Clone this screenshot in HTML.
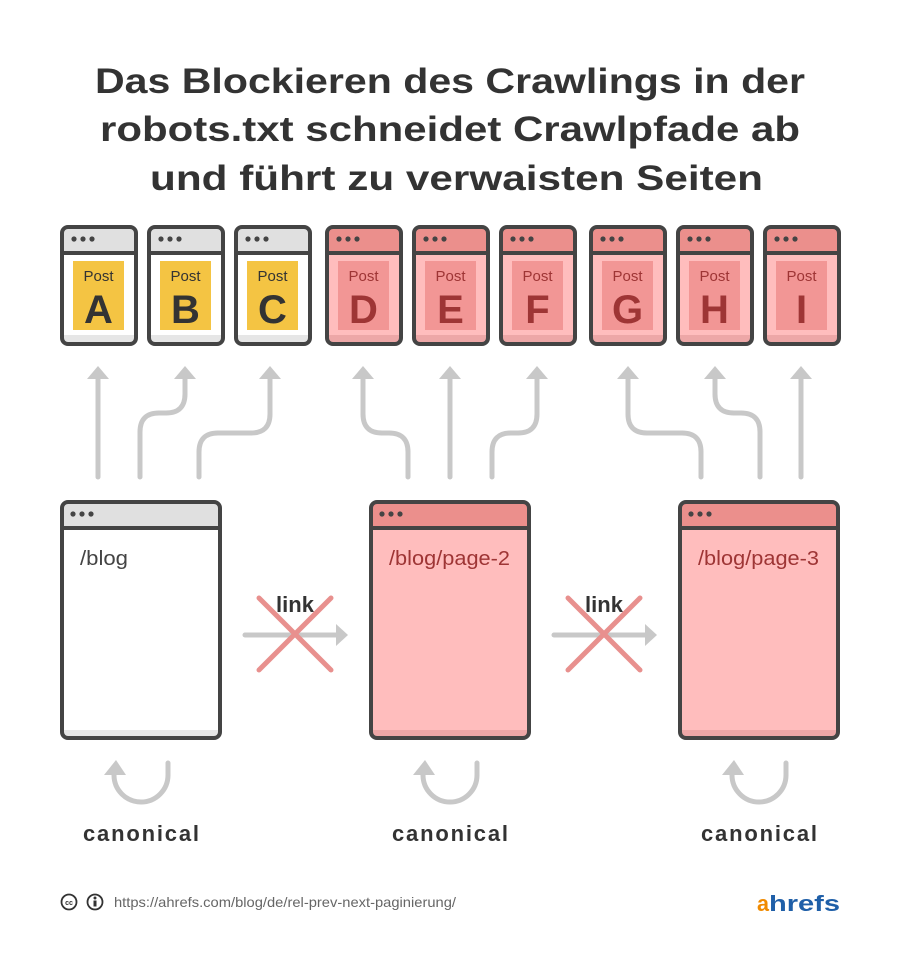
<!DOCTYPE html>
<html><head><meta charset="utf-8"><style>
html,body{margin:0;padding:0;background:#fff}
svg{display:block}
text{font-family:"Liberation Sans",sans-serif}
</style></head><body>
<svg width="900" height="972" viewBox="0 0 900 972" xmlns="http://www.w3.org/2000/svg">
<rect width="900" height="972" fill="#fff"/>
<g fill="#333" font-weight="bold" font-size="35">
<text x="95" y="93" textLength="710" lengthAdjust="spacingAndGlyphs">Das Blockieren des Crawlings in der</text>
<text x="100" y="141" textLength="700" lengthAdjust="spacingAndGlyphs">robots.txt schneidet Crawlpfade ab</text>
<text x="150" y="190" textLength="613" lengthAdjust="spacingAndGlyphs">und führt zu verwaisten Seiten</text>
</g>
<defs>
<g id="dots"><circle cx="0" cy="0" r="2.6"/><circle cx="9" cy="0" r="2.6"/><circle cx="18" cy="0" r="2.6"/></g>
<g id="wbox">
<rect x="62" y="227" width="74" height="117" rx="6" fill="#fff"/><rect x="62" y="227" width="74" height="26" rx="5" fill="#e0e0e0"/><rect x="64" y="335" width="70" height="7" fill="#e6e6e6"/>
<rect x="73" y="261" width="51" height="69" fill="#f4c443"/>
<line x1="62" y1="253" x2="136" y2="253" stroke="#444" stroke-width="4"/>
<rect x="62" y="227" width="74" height="117" rx="6" fill="none" stroke="#444" stroke-width="4"/>
<g fill="#444"><use href="#dots" x="74" y="239"/></g>
<text x="98.5" y="281" text-anchor="middle" font-size="15" font-weight="normal" fill="#333">Post</text>
</g>
<g id="pbox">
<rect x="62" y="227" width="74" height="117" rx="6" fill="#ffbdbd"/><rect x="62" y="227" width="74" height="26" rx="5" fill="#eb8f8c"/><rect x="64" y="335" width="70" height="7" fill="#eda7a7"/>
<rect x="73" y="261" width="51" height="69" fill="#f29695"/>
<line x1="62" y1="253" x2="136" y2="253" stroke="#444" stroke-width="4"/>
<rect x="62" y="227" width="74" height="117" rx="6" fill="none" stroke="#444" stroke-width="4"/>
<g fill="#444"><use href="#dots" x="74" y="239"/></g>
<text x="98.5" y="281" text-anchor="middle" font-size="15" font-weight="normal" fill="#9e3535">Post</text>
</g>
<g id="can">
<path d="M168 763 V775 A27 27 0 0 1 114 775" fill="none" stroke="#c8c8c8" stroke-width="5" stroke-linecap="round"/>
<polygon points="116,760 104,775 126,775" fill="#c8c8c8"/>
<text x="83" y="841" font-size="22" font-weight="bold" fill="#333" textLength="116" lengthAdjust="spacing">canonical</text>
</g>
<g id="lnk">
<line x1="245" y1="635" x2="338" y2="635" stroke="#c8c8c8" stroke-width="5" stroke-linecap="round"/>
<polygon points="348,635 336,624 336,646" fill="#c8c8c8"/>
<text x="295" y="612" text-anchor="middle" font-size="22" font-weight="bold" fill="#333">link</text>
<g stroke="#e8908e" stroke-width="5" stroke-linecap="round"><line x1="259" y1="598" x2="331" y2="670"/><line x1="331" y1="598" x2="259" y2="670"/></g>
</g>
</defs>
<use href="#wbox"/>
<use href="#wbox" x="87"/>
<use href="#wbox" x="174"/>
<use href="#pbox" x="265"/>
<use href="#pbox" x="352"/>
<use href="#pbox" x="439"/>
<use href="#pbox" x="529"/>
<use href="#pbox" x="616"/>
<use href="#pbox" x="703"/>
<g font-size="40" font-weight="bold" text-anchor="middle">
<text x="98.5" y="323" fill="#333">A</text>
<text x="185.5" y="323" fill="#333">B</text>
<text x="272.5" y="323" fill="#333">C</text>
<text x="363.5" y="323" fill="#9e3535">D</text>
<text x="450.5" y="323" fill="#9e3535">E</text>
<text x="537.5" y="323" fill="#9e3535">F</text>
<text x="627.5" y="323" fill="#9e3535">G</text>
<text x="714.5" y="323" fill="#9e3535">H</text>
<text x="801.5" y="323" fill="#9e3535">I</text>
</g>
<g fill="none" stroke="#c8c8c8" stroke-width="5" stroke-linecap="round">
<path d="M98 477 V376"/>
<path d="M140 477 V432 Q140 413 159 413 H166 Q185 413 185 394 V376"/>
<path d="M199 477 V452 Q199 433 218 433 H251 Q270 433 270 414 V376"/>
<path d="M408 477 V452 Q408 433 389 433 H382 Q363 433 363 414 V376"/>
<path d="M450 477 V376"/>
<path d="M492 477 V452 Q492 433 511 433 H518 Q537 433 537 414 V376"/>
<path d="M701 477 V452 Q701 433 682 433 H647 Q628 433 628 414 V376"/>
<path d="M760 477 V432 Q760 413 741 413 H734 Q715 413 715 394 V376"/>
<path d="M801 477 V376"/>
</g>
<g fill="#c8c8c8">
<polygon points="98,366 87,379 109,379"/>
<polygon points="185,366 174,379 196,379"/>
<polygon points="270,366 259,379 281,379"/>
<polygon points="363,366 352,379 374,379"/>
<polygon points="450,366 439,379 461,379"/>
<polygon points="537,366 526,379 548,379"/>
<polygon points="628,366 617,379 639,379"/>
<polygon points="715,366 704,379 726,379"/>
<polygon points="801,366 790,379 812,379"/>
</g>
<g>
<rect x="62" y="502" width="158" height="236" rx="6" fill="#fff"/>
<rect x="62" y="502" width="158" height="26" rx="5" fill="#e0e0e0"/>
<rect x="64" y="730" width="154" height="7" fill="#e6e6e6"/>
<line x1="62" y1="528" x2="220" y2="528" stroke="#444" stroke-width="4"/>
<rect x="62" y="502" width="158" height="236" rx="6" fill="none" stroke="#444" stroke-width="4"/>
<g fill="#444"><use href="#dots" x="73" y="514"/></g>
<text x="80" y="565" font-size="20" fill="#444" textLength="48" lengthAdjust="spacingAndGlyphs">/blog</text>
</g>
<g>
<rect x="371" y="502" width="158" height="236" rx="6" fill="#ffbdbd"/>
<rect x="371" y="502" width="158" height="26" rx="5" fill="#eb8f8c"/>
<rect x="373" y="730" width="154" height="7" fill="#eda7a7"/>
<line x1="371" y1="528" x2="529" y2="528" stroke="#444" stroke-width="4"/>
<rect x="371" y="502" width="158" height="236" rx="6" fill="none" stroke="#444" stroke-width="4"/>
<g fill="#444"><use href="#dots" x="382" y="514"/></g>
<text x="389" y="565" font-size="20" fill="#9e3535" textLength="121" lengthAdjust="spacingAndGlyphs">/blog/page-2</text>
</g>
<g>
<rect x="680" y="502" width="158" height="236" rx="6" fill="#ffbdbd"/>
<rect x="680" y="502" width="158" height="26" rx="5" fill="#eb8f8c"/>
<rect x="682" y="730" width="154" height="7" fill="#eda7a7"/>
<line x1="680" y1="528" x2="838" y2="528" stroke="#444" stroke-width="4"/>
<rect x="680" y="502" width="158" height="236" rx="6" fill="none" stroke="#444" stroke-width="4"/>
<g fill="#444"><use href="#dots" x="691" y="514"/></g>
<text x="698" y="565" font-size="20" fill="#9e3535" textLength="121" lengthAdjust="spacingAndGlyphs">/blog/page-3</text>
</g>
<use href="#lnk"/>
<use href="#lnk" x="309"/>
<use href="#can"/>
<use href="#can" x="309"/>
<use href="#can" x="618"/>
<circle cx="69" cy="902" r="7.5" fill="none" stroke="#333" stroke-width="1.8"/>
<text x="69" y="905" text-anchor="middle" font-size="7" font-weight="bold" fill="#333">cc</text>
<circle cx="95" cy="902" r="7.5" fill="none" stroke="#333" stroke-width="1.8"/>
<circle cx="95" cy="898" r="1.5" fill="#333"/>
<rect x="93.5" y="900.5" width="3" height="6" fill="#333"/>
<text x="114" y="907" font-size="14" fill="#666" textLength="342" lengthAdjust="spacingAndGlyphs">https://ahrefs.com/blog/de/rel-prev-next-paginierung/</text>
<text x="757" y="911" font-size="22" font-weight="bold" fill="#f08a00" textLength="12" lengthAdjust="spacingAndGlyphs">a</text>
<text x="769" y="911" font-size="22" font-weight="bold" fill="#1f5fa8" textLength="71" lengthAdjust="spacingAndGlyphs">hrefs</text>
</svg>
</body></html>
